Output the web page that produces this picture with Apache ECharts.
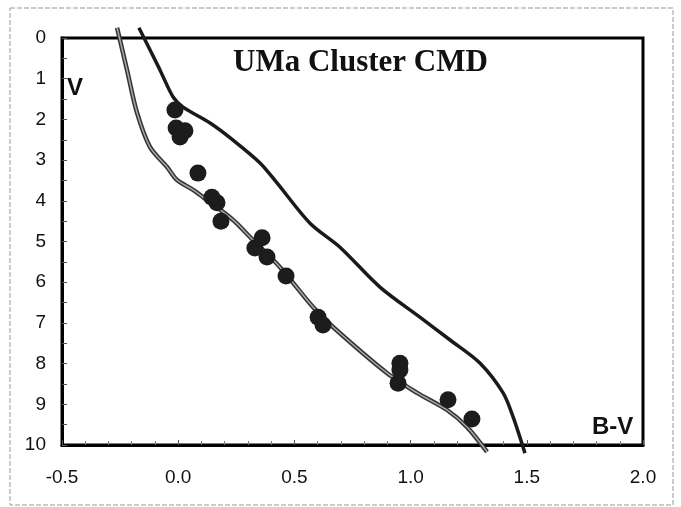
<!DOCTYPE html>
<html>
<head>
<meta charset="utf-8">
<script src="https://cdn.jsdelivr.net/npm/echarts@6/dist/echarts.min.js"></script>
<style>
html, body { margin: 0; padding: 0; background: #fff; }
#cmdDiv { width: 681px; height: 507px; }
</style>
</head>
<body>
<div id="cmdDiv"></div>
<script>
// stars of the UMa group
const starBV = [-0.014, -0.009, 0.029, 0.008, 0.085, 0.145, 0.167, 0.184, 0.361, 0.330, 0.382, 0.464, 0.602, 0.623, 0.954, 0.954, 0.946, 1.161, 1.264];
const starV = [1.77, 2.21, 2.28, 2.43, 3.32, 3.91, 4.05, 4.50, 4.91, 5.16, 5.38, 5.85, 6.86, 7.05, 7.99, 8.16, 8.48, 8.89, 9.36];

// lower (gray) main sequence curve
const lowerBV = [-0.263, -0.220, -0.177, -0.121, -0.048, -0.005, 0.064, 0.107, 0.236, 0.309, 0.438, 0.580, 0.666, 0.898, 1.028, 1.157, 1.243, 1.329];
const lowerV = [-0.25, 0.79, 1.84, 2.68, 3.17, 3.49, 3.73, 3.91, 4.47, 4.89, 5.63, 6.61, 7.10, 8.23, 8.72, 9.14, 9.56, 10.17];

// upper (dark) curve
const upperBV = [-0.169, -0.078, -0.022, 0.021, 0.137, 0.236, 0.352, 0.425, 0.567, 0.696, 0.868, 1.040, 1.170, 1.299, 1.398, 1.441, 1.492];
const upperV = [-0.25, 0.79, 1.45, 1.70, 2.09, 2.51, 3.07, 3.56, 4.55, 5.14, 6.12, 6.86, 7.42, 7.99, 8.72, 9.31, 10.20];

const pairs = (xs, ys) => xs.map((x, i) => [x, ys[i]]);

let cmdChart = echarts.init(document.getElementById('cmdDiv'));
let cmdOption = {
	backgroundColor: '#fff',
	animation: false,
	title: {
		text: 'UMa Cluster CMD',
		left: 228,
		top: 42,
		textStyle: {
			fontFamily: 'Liberation Serif',
			fontWeight: 'bold',
			fontSize: 31,
			color: '#111'
		}
	},
	grid: {
		left: 62,
		right: 38,
		top: 38,
		bottom: 62,
		show: true,
		borderColor: '#000',
		borderWidth: 3
	},
	xAxis: {
		type: 'value',
		min: -0.5,
		max: 2,
		interval: 0.5,
		axisLine: { show: true, onZero: false, lineStyle: { color: '#000', width: 3 } },
		axisTick: { show: true, inside: true, length: 5, lineStyle: { color: '#555' } },
		minorTick: { show: true, splitNumber: 5, length: 4, lineStyle: { color: '#777' } },
		splitLine: { show: false },
		axisLabel: {
			margin: 23,
			fontFamily: 'Liberation Sans',
			fontSize: 19,
			color: '#111',
			formatter: (v) => v.toFixed(1)
		}
	},
	yAxis: {
		type: 'value',
		inverse: true,
		min: 0,
		max: 10,
		interval: 1,
		axisLine: { show: true, onZero: false, lineStyle: { color: '#000', width: 3 } },
		axisTick: { show: true, inside: true, length: 5, lineStyle: { color: '#555' } },
		minorTick: { show: true, splitNumber: 2, length: 5, lineStyle: { color: '#555' } },
		splitLine: { show: false },
		axisLabel: {
			margin: 16,
			fontFamily: 'Liberation Sans',
			fontSize: 19,
			color: '#111'
		}
	},
	graphic: [
		{
			// dashed frame of the chart area
			type: 'rect',
			shape: { x: 10, y: 8, width: 663, height: 497 },
			style: { fill: 'none', stroke: '#999', lineWidth: 1, lineDash: [5, 2] },
			z: -1
		},
		{
			type: 'text',
			left: 67,
			top: 76,
			style: { text: 'V', font: 'bold 24px "Liberation Sans"', fill: '#111' }
		},
		{
			type: 'text',
			left: 592,
			top: 415,
			style: { text: 'B-V', font: 'bold 24px "Liberation Sans"', fill: '#111' }
		}
	],
	series: [
		{
			name: 'lower edge',
			type: 'line',
			data: pairs(lowerBV, lowerV),
			smooth: 0.3,
			showSymbol: false,
			clip: false,
			lineStyle: { color: '#333', width: 4.5 },
			z: 2
		},
		{
			name: 'lower core',
			type: 'line',
			data: pairs(lowerBV, lowerV),
			smooth: 0.3,
			showSymbol: false,
			clip: false,
			lineStyle: { color: '#aaa', width: 1.5 },
			z: 3
		},
		{
			name: 'upper',
			type: 'line',
			data: pairs(upperBV, upperV),
			smooth: 0.3,
			showSymbol: false,
			clip: false,
			lineStyle: { color: '#1a1a1a', width: 3.5 },
			z: 2
		},
		{
			name: 'stars',
			type: 'scatter',
			data: pairs(starBV, starV),
			symbolSize: 17,
			itemStyle: { color: '#1c1c1c', opacity: 1 },
			z: 5
		}
	]
};
cmdChart.setOption(cmdOption);
</script>
</body>
</html>
